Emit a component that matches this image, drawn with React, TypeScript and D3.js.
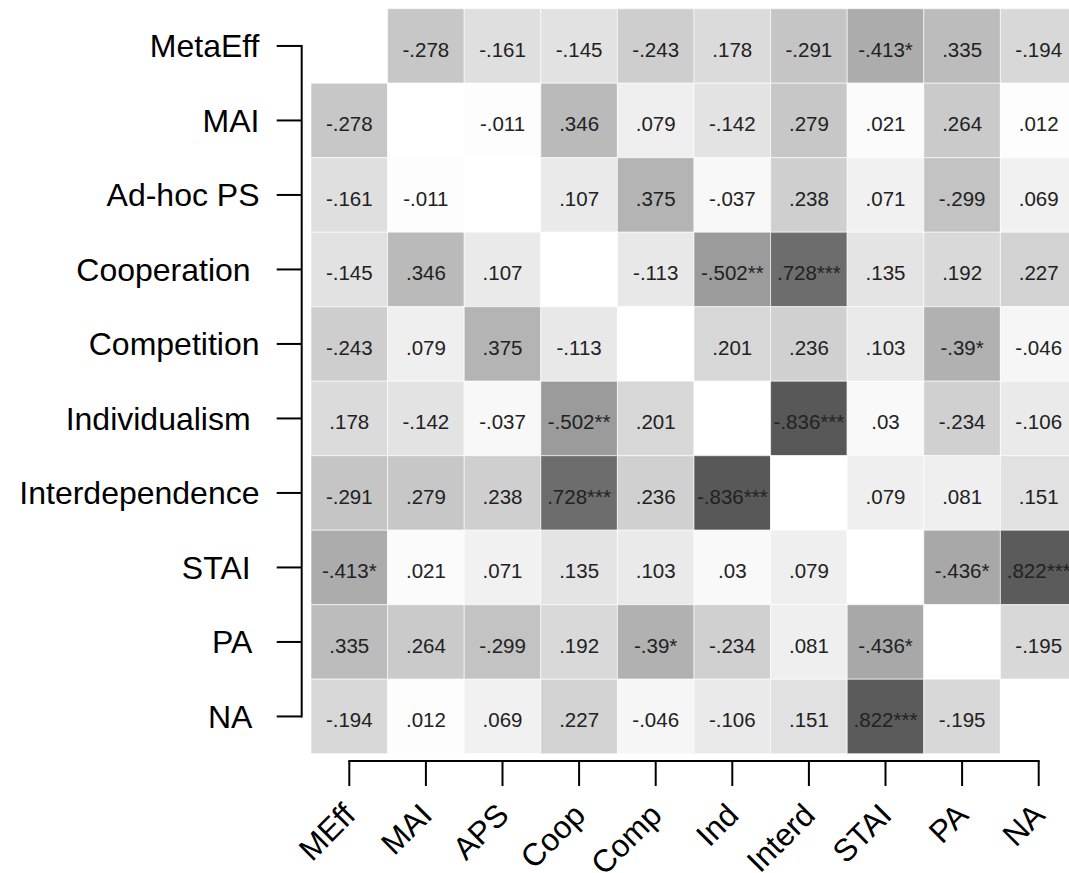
import React from 'react'
import * as d3 from 'd3'

const rowLabels = ['MetaEff', 'MAI', 'Ad-hoc PS', 'Cooperation ', 'Competition', 'Individualism ', 'Interdependence', 'STAI ', 'PA ', 'NA ']
const colLabels = ['MEff', 'MAI', 'APS', 'Coop', 'Comp', 'Ind', 'Interd', 'STAI', 'PA', 'NA']

// correlation matrix, diagonal left empty (null)
const corr: (number | null)[][] = [
  [null, -0.278, -0.161, -0.145, -0.243, 0.178, -0.291, -0.413, 0.335, -0.194],
  [-0.278, null, -0.011, 0.346, 0.079, -0.142, 0.279, 0.021, 0.264, 0.012],
  [-0.161, -0.011, null, 0.107, 0.375, -0.037, 0.238, 0.071, -0.299, 0.069],
  [-0.145, 0.346, 0.107, null, -0.113, -0.502, 0.728, 0.135, 0.192, 0.227],
  [-0.243, 0.079, 0.375, -0.113, null, 0.201, 0.236, 0.103, -0.39, -0.046],
  [0.178, -0.142, -0.037, -0.502, 0.201, null, -0.836, 0.03, -0.234, -0.106],
  [-0.291, 0.279, 0.238, 0.728, 0.236, -0.836, null, 0.079, 0.081, 0.151],
  [-0.413, 0.021, 0.071, 0.135, 0.103, 0.03, 0.079, null, -0.436, 0.822],
  [0.335, 0.264, -0.299, 0.192, -0.39, -0.234, 0.081, -0.436, null, -0.195],
  [-0.194, 0.012, 0.069, 0.227, -0.046, -0.106, 0.151, 0.822, -0.195, null],
]

const stars: string[][] = [
  ['', '', '', '', '', '', '', '*', '', ''],
  ['', '', '', '', '', '', '', '', '', ''],
  ['', '', '', '', '', '', '', '', '', ''],
  ['', '', '', '', '', '**', '***', '', '', ''],
  ['', '', '', '', '', '', '', '', '*', ''],
  ['', '', '', '**', '', '', '***', '', '', ''],
  ['', '', '', '***', '', '***', '', '', '', ''],
  ['*', '', '', '', '', '', '', '', '*', '***'],
  ['', '', '', '', '*', '', '', '*', '', ''],
  ['', '', '', '', '', '', '', '***', '', ''],
]

const width = 1069
const height = 873
const font = '"Liberation Sans", Arial, sans-serif'

const fmt = (v: number) => String(v).replace('0.', '.')

export default function App() {
  const x = d3.scaleBand<string>().domain(colLabels).range([311, 311 + 76.6 * 10])
  const y = d3.scaleBand<string>().domain(rowLabels).range([8.7, 8.7 + 74.5 * 10])
  const fill = d3.scaleLinear<string>().domain([0, 1]).range(['#ffffff', '#373737'])

  const cx = (c: string) => (x(c) as number) + x.bandwidth() / 2
  const cy = (r: string) => (y(r) as number) + y.bandwidth() / 2

  const axisX = 301.7
  const axisY = 761
  const tick = 25

  return (
    <svg width={width} height={height} style={{ position: 'absolute', left: 0, top: 0, background: '#fff' }}>
      <g>
        {rowLabels.map((r, i) =>
          colLabels.map((c, j) => {
            const v = corr[i][j]
            return (
              <rect key={r + c} x={x(c)} y={y(r)} width={x.bandwidth()} height={y.bandwidth()}
                fill={v == null ? '#ffffff' : fill(Math.abs(v))} stroke="#fff" strokeOpacity={0.6} strokeWidth={1} />
            )
          })
        )}
      </g>
      <g fontFamily={font} fontSize={20.5} fill="#222" textAnchor="middle">
        {rowLabels.map((r, i) =>
          colLabels.map((c, j) => {
            const v = corr[i][j]
            if (v == null) return null
            return (
              <text key={r + c} x={cx(c)} y={cy(r) + 11}>{fmt(v) + stars[i][j]}</text>
            )
          })
        )}
      </g>
      {/* bracket-style axes */}
      <g stroke="#000" strokeWidth={2} fill="none">
        <line x1={axisX} x2={axisX} y1={cy(rowLabels[0]) - 1} y2={cy(rowLabels[rowLabels.length - 1]) + 1} />
        {rowLabels.map(r => (
          <line key={r} x1={axisX - tick} x2={axisX} y1={cy(r)} y2={cy(r)} />
        ))}
        <line x1={cx(colLabels[0]) - 1} x2={cx(colLabels[colLabels.length - 1]) + 1} y1={axisY} y2={axisY} />
        {colLabels.map(c => (
          <line key={c} x1={cx(c)} x2={cx(c)} y1={axisY} y2={axisY + tick} />
        ))}
      </g>
      <g fontFamily={font} fill="#000">
        {rowLabels.map(r => (
          <text key={r} x={259.5} y={cy(r)} dy="0.36em" fontSize={32} textAnchor="end" style={{ whiteSpace: 'pre' }}>{r}</text>
        ))}
        {colLabels.map(c => (
          <text key={c} fontSize={31.5} textAnchor="end" transform={`translate(${cx(c) + 8},817) rotate(-45)`}>{c}</text>
        ))}
      </g>
    </svg>
  )
}
